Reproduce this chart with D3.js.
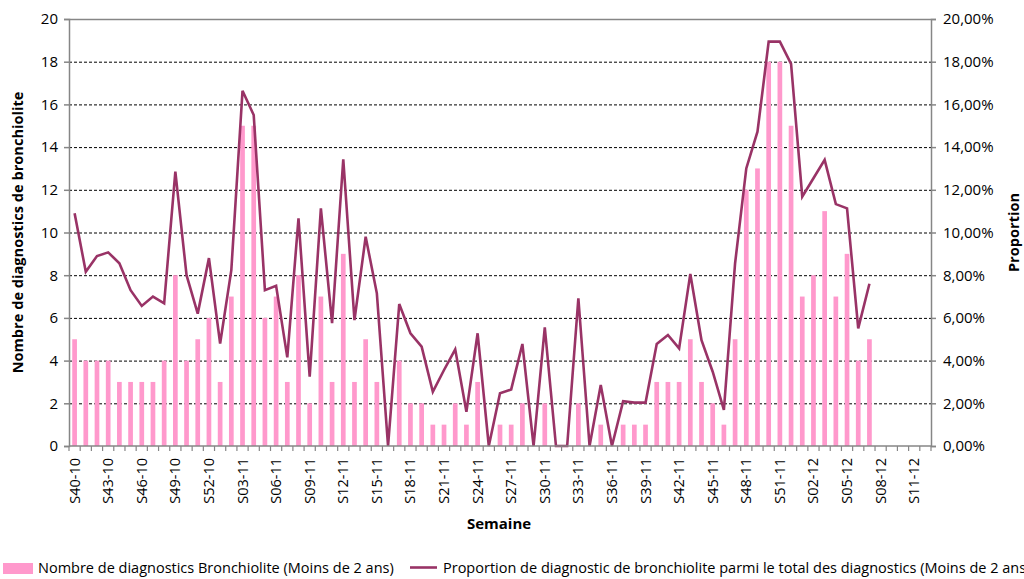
<!DOCTYPE html>
<html><head><meta charset="utf-8">
<script src="https://cdn.jsdelivr.net/npm/d3@7/dist/d3.min.js"></script>
<style>
html,body{margin:0;padding:0;background:#fff;}
svg{display:block;font-family:"Open Sans",sans-serif;}
</style></head>
<body>
<svg id="chart" width="1024" height="579"></svg>
<script>
const categories = [
"S40-10","S41-10","S42-10","S43-10","S44-10","S45-10","S46-10","S47-10","S48-10","S49-10","S50-10","S51-10","S52-10",
"S01-11","S02-11","S03-11","S04-11","S05-11","S06-11","S07-11","S08-11","S09-11","S10-11","S11-11","S12-11","S13-11",
"S14-11","S15-11","S16-11","S17-11","S18-11","S19-11","S20-11","S21-11","S22-11","S23-11","S24-11","S25-11","S26-11",
"S27-11","S28-11","S29-11","S30-11","S31-11","S32-11","S33-11","S34-11","S35-11","S36-11","S37-11","S38-11","S39-11",
"S40-11","S41-11","S42-11","S43-11","S44-11","S45-11","S46-11","S47-11","S48-11","S49-11","S50-11","S51-11","S52-11",
"S01-12","S02-12","S03-12","S04-12","S05-12","S06-12","S07-12","S08-12","S09-12","S10-12","S11-12","S12-12"];

const counts = [5,4,4,4,3,3,3,3,4,8,4,5,6,
3,7,15,15,6,7,3,8,2,7,3,9,3,
5,3,0,4,2,2,1,1,2,1,3,0,1,
1,2,0,2,0,0,2,0,1,0,1,1,1,
3,3,3,5,3,2,1,5,12,13,18,18,15,
7,8,11,7,9,4,5];

const proportions = [10.9,8.16,8.9,9.07,8.56,7.3,6.56,7.0,6.68,12.85,8.0,6.2,8.8,
4.8,8.24,16.64,15.5,7.3,7.5,4.15,10.66,3.25,11.13,5.75,13.43,5.9,
9.8,7.15,0,6.65,5.28,4.65,2.54,3.56,4.53,1.6,5.28,0,2.47,
2.65,4.78,0,5.56,0,0,6.92,0,2.86,0,2.1,2.03,2.03,
4.78,5.2,4.57,8.06,4.96,3.48,1.69,8.56,13.0,14.72,18.94,18.94,17.9,
11.68,12.54,13.4,11.33,11.13,5.51,7.6];

const leftTicks = [0,2,4,6,8,10,12,14,16,18,20];
const rightTicks = [0,2,4,6,8,10,12,14,16,18,20];

const seriesNames = ["Nombre de diagnostics Bronchiolite (Moins de 2 ans)",
 "Proportion de diagnostic de bronchiolite parmi le total des diagnostics (Moins de 2 ans)"];
const yTitle = "Nombre de diagnostics de bronchiolite";
const y2Title = "Proportion";
const xTitle = "Semaine";

const barColor = "#FF99CC", lineColor = "#993366", axisColor = "#868686";
const L = 69, R = 931, T = 19, B = 446;

const svg = d3.select("#chart");
const x = d3.scaleBand().domain(categories).range([L, R]).padding(0);
const y = d3.scaleLinear().domain([0, 20]).range([B, T]);
const y2 = d3.scaleLinear().domain([0, 20]).range([B, T]);

// gridlines
svg.append("g").selectAll("line").data(leftTicks.filter(d => d > 0 && d < 20)).join("line")
  .attr("x1", L).attr("x2", R).attr("y1", d => y(d) + 0.5).attr("y2", d => y(d) + 0.5)
  .attr("stroke", "#000").attr("stroke-width", 1).attr("stroke-dasharray", "3,2");
// top border
svg.append("line").attr("x1", L).attr("x2", R).attr("y1", T + 0.5).attr("y2", T + 0.5)
  .attr("stroke", axisColor).attr("stroke-width", 1.5);

// bars
const bw = x.bandwidth() * 0.42;
svg.append("g").selectAll("rect").data(counts).join("rect")
  .attr("x", (d, i) => x(categories[i]) + x.bandwidth() / 2 - bw / 2)
  .attr("y", d => y(d)).attr("width", bw).attr("height", d => B - y(d))
  .attr("fill", barColor);

// line
const line = d3.line().x((d, i) => x(categories[i]) + x.bandwidth() / 2).y(d => y2(d));
svg.append("path").datum(proportions).attr("d", line)
  .attr("fill", "none").attr("stroke", lineColor).attr("stroke-width", 2.6).attr("stroke-linejoin", "miter");

// left axis
const ax = svg.append("g").attr("transform", `translate(${L},0)`)
  .call(d3.axisLeft(y).tickValues(leftTicks).tickSize(5).tickPadding(6));
ax.select(".domain").attr("stroke", axisColor).attr("stroke-width", 1.5);
ax.selectAll(".tick line").attr("stroke", axisColor).attr("stroke-width", 1.5);
ax.selectAll(".tick text").attr("font-size", 15).attr("fill", "#000").attr("font-family", "Open Sans");

// right axis
const fmt = v => v.toFixed(2).replace(".", ",") + "%";
const ax2 = svg.append("g").attr("transform", `translate(${R},0)`)
  .call(d3.axisRight(y2).tickValues(rightTicks).tickSize(5).tickPadding(7).tickFormat(fmt));
ax2.select(".domain").attr("stroke", axisColor).attr("stroke-width", 1.5);
ax2.selectAll(".tick line").attr("stroke", axisColor).attr("stroke-width", 1.5);
ax2.selectAll(".tick text").attr("font-size", 15).attr("fill", "#000").attr("font-family", "Open Sans");

// bottom axis
const axb = svg.append("g").attr("transform", `translate(0,${B})`);
axb.append("line").attr("x1", L).attr("x2", R).attr("y1", 0).attr("y2", 0)
  .attr("stroke", axisColor).attr("stroke-width", 1.5);
const boundaries = categories.map(c => x(c)).concat([x.range()[1]]);
axb.selectAll("line.tk").data(boundaries).join("line").attr("class", "tk")
  .attr("x1", d => d).attr("x2", d => d).attr("y1", 0).attr("y2", 5)
  .attr("stroke", axisColor).attr("stroke-width", 1.2);
axb.selectAll("text").data(categories.filter((c, i) => i % 3 === 0)).join("text")
  .attr("transform", d => `translate(${x(d) + x.bandwidth() / 2 + 5},${12}) rotate(-90)`)
  .attr("text-anchor", "end").attr("font-size", 14.5).attr("fill", "#000").text(d => d);

// titles
svg.append("text").attr("transform", `translate(23,${(T + B) / 2}) rotate(-90)`)
  .attr("text-anchor", "middle").attr("font-size", 14.6).attr("font-weight", "bold").text(yTitle);
svg.append("text").attr("transform", `translate(1019,${(T + B) / 2}) rotate(-90)`)
  .attr("text-anchor", "middle").attr("font-size", 14.6).attr("font-weight", "bold").text(y2Title);
svg.append("text").attr("x", 499).attr("y", 529)
  .attr("text-anchor", "middle").attr("font-size", 15).attr("font-weight", "bold").text(xTitle);

// legend
const lg = svg.append("g");
lg.append("rect").attr("x", 3).attr("y", 563).attr("width", 30).attr("height", 11).attr("fill", barColor);
lg.append("text").attr("x", 38).attr("y", 573).attr("font-size", 14.5).text(seriesNames[0]);
lg.append("line").attr("x1", 410).attr("x2", 437).attr("y1", 567.5).attr("y2", 567.5)
  .attr("stroke", lineColor).attr("stroke-width", 2.6);
lg.append("text").attr("x", 443).attr("y", 573).attr("font-size", 14.5).text(seriesNames[1]);
</script>
</body></html>
